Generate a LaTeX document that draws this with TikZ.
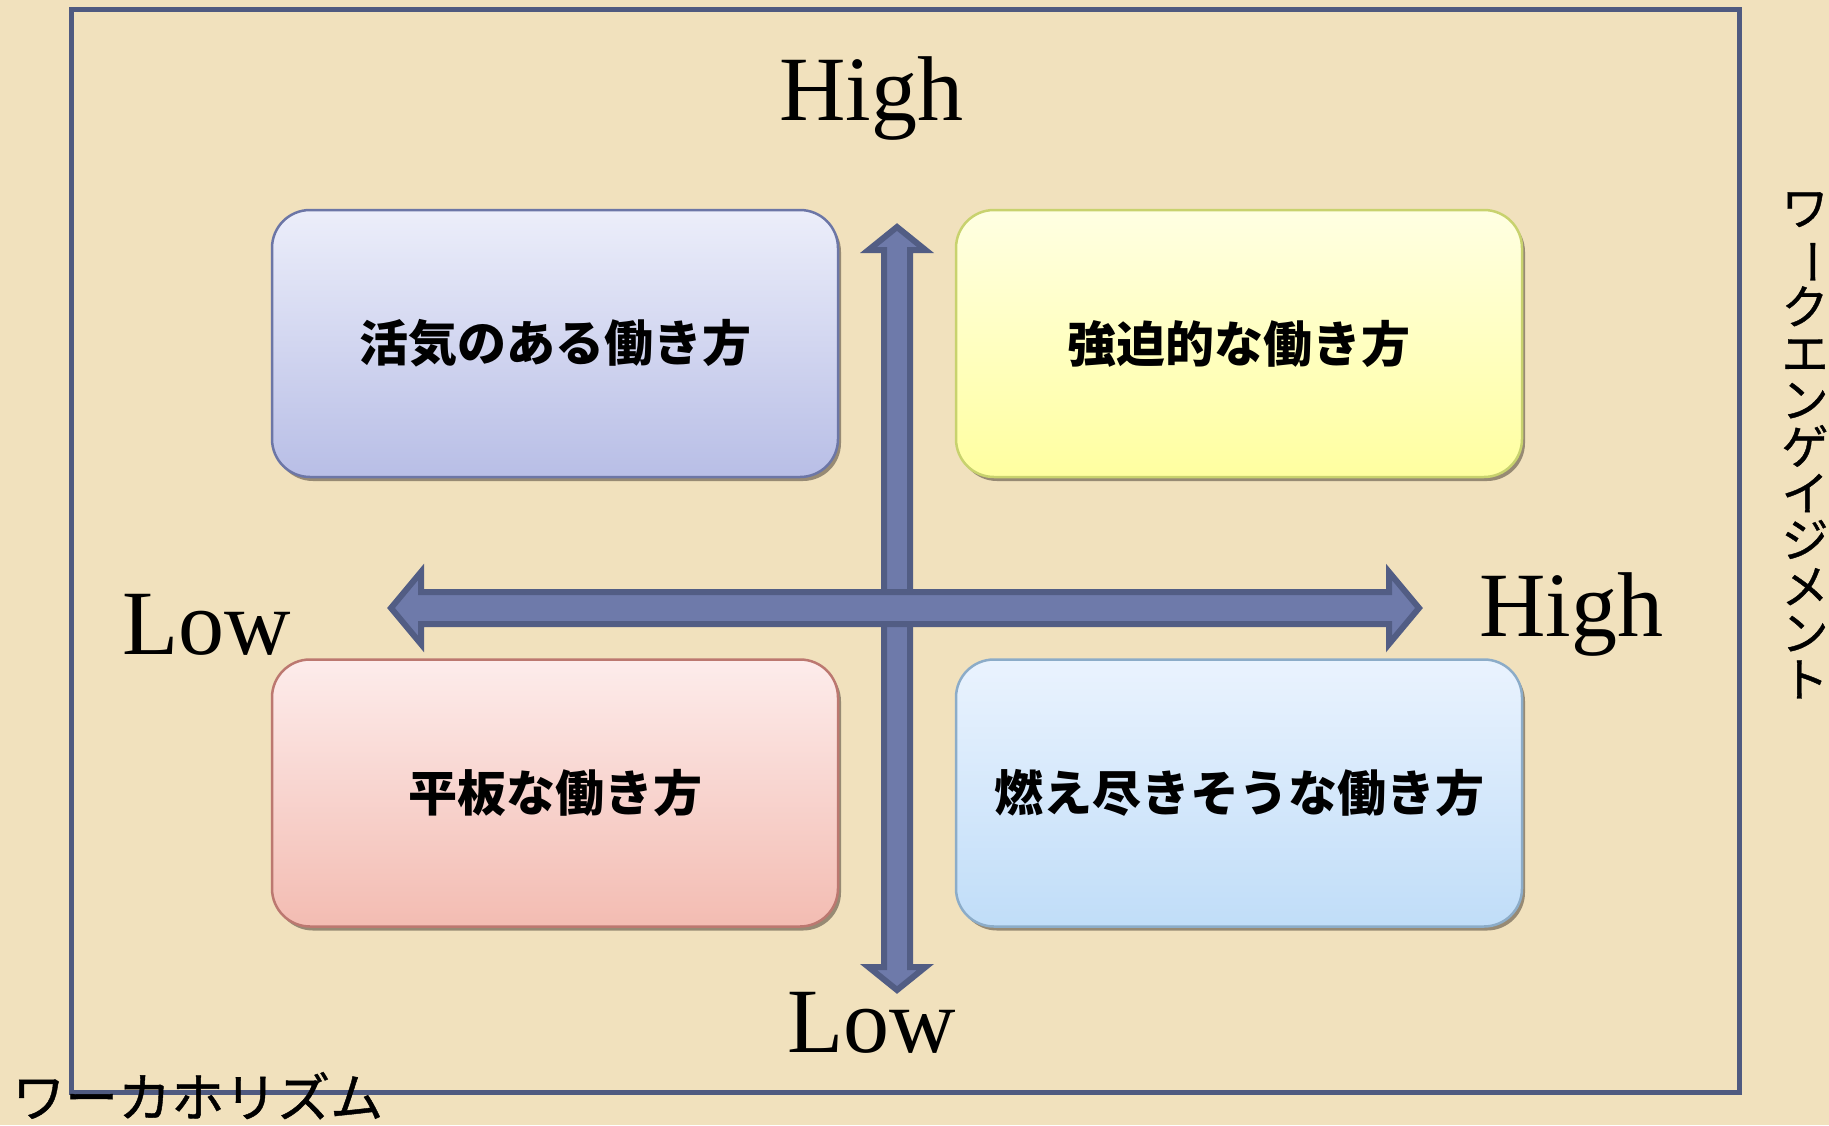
\documentclass[tikz,border=0pt]{standalone}
\usepackage{fontspec}
\usepackage{graphicx}
\setmainfont{Liberation Serif}
\newfontfamily\jp{Noto Sans CJK JP}
\newfontfamily\jpm[FakeBold=0.8]{Noto Sans CJK JP}
\usetikzlibrary{shadows}
\definecolor{bg}{HTML}{F1E1BD}
\definecolor{frame}{HTML}{4F5A80}
\definecolor{arrfill}{HTML}{6E7AAA}
\definecolor{arrline}{HTML}{525D84}
\definecolor{shadowc}{HTML}{7A6E5C}
\tikzset{
  quad/.style={rounded corners=38pt, line width=2.5pt, minimum width=566pt, minimum height=267pt,
    font=\jp\bfseries\fontsize{49}{55}\selectfont, text=black,
    drop shadow={shadow xshift=3pt, shadow yshift=-4pt, fill=shadowc, opacity=0.75}},
  axislabel/.style={font=\fontsize{92}{100}\selectfont, anchor=base, inner sep=0pt},
  blockarrow/.style={fill=arrfill, draw=arrline, line width=6pt, line join=miter},
}
\begin{document}
\begin{tikzpicture}[x=1pt,y=-1pt]
\useasboundingbox (0,0) rectangle (1829,1125);
\fill[bg] (0,0) rectangle (1829,1125);
% frame
\draw[frame, line width=5pt] (71.5,9.5) rectangle (1739,1092);
% quadrant boxes
\node[quad, draw={rgb,255:red,108;green,118;blue,166}, top color={rgb,255:red,236;green,238;blue,250}, bottom color={rgb,255:red,184;green,190;blue,230}] (tl) at (555,343.5) {活気のある働き方};
\node[quad, draw={rgb,255:red,200;green,210;blue,110}, top color={rgb,255:red,255;green,255;blue,226}, bottom color={rgb,255:red,255;green,255;blue,160}] (tr) at (1239,343.5) {強迫的な働き方};
\node[quad, draw={rgb,255:red,188;green,120;blue,112}, top color={rgb,255:red,253;green,236;blue,235}, bottom color={rgb,255:red,243;green,188;blue,178}] (bl) at (555,793) {平板な働き方};
\node[quad, draw={rgb,255:red,140;green,172;blue,200}, top color={rgb,255:red,234;green,243;blue,254}, bottom color={rgb,255:red,192;green,221;blue,248}] (br) at (1239,793) {燃え尽きそうな働き方};
% vertical block arrow
\path[blockarrow] (897,227) -- (925.5,250) -- (910,250) -- (910,967) -- (925.5,967) -- (897,990)
  -- (868.5,967) -- (884,967) -- (884,250) -- (868.5,250) -- cycle;
% horizontal block arrow
\path[blockarrow] (391,608) -- (421,572) -- (421,592) -- (1389,592) -- (1389,572) -- (1419,608)
  -- (1389,644) -- (1389,624) -- (421,624) -- (421,644) -- cycle;
% axis labels
\node[axislabel] (hightop) at (871,120) {High};
\node[axislabel] (lowbottom) at (872,1052) {Low};
\node[axislabel] (lowleft) at (207,654) {Low};
\node[axislabel] (highright) at (1571,636) {High};
% axis titles
\node[font=\jpm\fontsize{47}{46.6}\selectfont, align=center, inner sep=0pt, anchor=north] (yt) at (1805,192)
  {ワ\\\rotatebox[origin=c]{-90}{ー}\\ク\\エ\\ン\\ゲ\\イ\\ジ\\メ\\ン\\ト};
\node[font=\jpm\fontsize{53}{56}\selectfont, anchor=base west, inner sep=0pt] (xt) at (12,1117) {ワーカホリズム};
\end{tikzpicture}
\end{document}
